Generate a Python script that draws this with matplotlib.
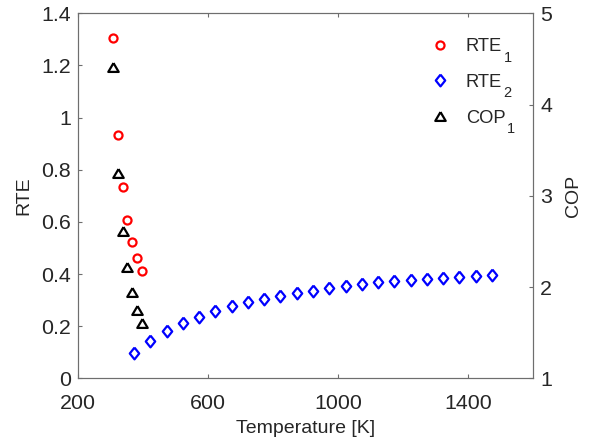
import matplotlib
matplotlib.use('Agg')
import matplotlib.pyplot as plt

plt.rcParams['font.family'] = ['Liberation Sans', 'DejaVu Sans']

# data
temp1 = [308, 323, 338, 352, 368, 382, 398]
rte1 = [1.304, 0.933, 0.733, 0.607, 0.522, 0.460, 0.412]
cop1 = [4.415, 3.247, 2.614, 2.223, 1.949, 1.749, 1.603]

temp2 = [373, 423, 473, 523, 573, 623, 673, 723, 773, 823, 873, 923,
         973, 1023, 1073, 1123, 1173, 1223, 1273, 1323, 1373, 1423, 1473]
rte2 = [0.096, 0.144, 0.181, 0.212, 0.236, 0.259, 0.277, 0.292, 0.303,
        0.317, 0.326, 0.336, 0.345, 0.354, 0.361, 0.368, 0.373, 0.377,
        0.381, 0.386, 0.390, 0.394, 0.396]

xticks = [200, 600, 1000, 1400]
yticks_left = [0, 0.2, 0.4, 0.6, 0.8, 1, 1.2, 1.4]
ylabels_left = ['0', '0.2', '0.4', '0.6', '0.8', '1', '1.2', '1.4']
yticks_right = [1, 2, 3, 4, 5]

legend_names = ['RTE', 'RTE', 'COP']
legend_subs = ['1', '2', '1']

diamond = [(0, 1), (0.8, 0), (0, -1), (-0.8, 0), (0, 1)]
triangle = [(0, 0.85), (-1, -0.85), (1, -0.85), (0, 0.85)]

axis_gray = '#6e6e6e'
text_col = '#262626'

fig = plt.figure(figsize=(5.91, 4.48), dpi=100)
ax = fig.add_axes([0.1315, 0.1556, 0.7709, 0.8147])
ax2 = ax.twinx()

h1, = ax.plot(temp1, rte1, linestyle='none', marker='o', ms=5.8, mfc='none',
              mec='red', mew=1.6, label=legend_names[0])
h2, = ax.plot(temp2, rte2, linestyle='none', marker=diamond, ms=8.5, mfc='none',
              mec='blue', mew=1.6, label=legend_names[1])
h3, = ax2.plot(temp1, cop1, linestyle='none', marker=triangle, ms=7.5, mfc='none',
               mec='black', mew=1.6, label=legend_names[2])

ax.set_xlim(200, 1600)
ax.set_ylim(0, 1.4)
ax2.set_ylim(1, 5)
ax.set_xticks(xticks)
ax.set_yticks(yticks_left)
ax.set_yticklabels(ylabels_left)
ax2.set_yticks(yticks_right)

for a in (ax, ax2):
    for s in a.spines.values():
        s.set_color(axis_gray)
        s.set_linewidth(0.8)

ax.tick_params(axis='x', direction='in', top=True, bottom=True, length=3,
               color=axis_gray, labelsize=15.4, labelcolor=text_col, pad=11)
ax.tick_params(axis='y', direction='in', left=True, right=False, length=3,
               color=axis_gray, labelsize=15.4, labelcolor=text_col, pad=5)
ax2.tick_params(axis='y', direction='in', right=True, length=3,
                color=axis_gray, labelsize=15.4, labelcolor=text_col, pad=5)

ax.set_xlabel('Temperature [K]', fontsize=14, color=text_col, labelpad=5)
ax.set_ylabel('RTE', fontsize=14, color=text_col, labelpad=6)
ax2.set_ylabel('COP', fontsize=14, color=text_col, labelpad=9)

leg = ax2.legend(handles=[h1, h2, h3], loc='upper right', bbox_to_anchor=(0.955, 0.952),
                 frameon=False, fontsize=13.2, numpoints=1, handlelength=1.0,
                 handletextpad=0.9, labelspacing=1.02, borderaxespad=0,
                 labelcolor=text_col)

# MATLAB-style subscripts: dropped fully below the baseline
fig.canvas.draw()
inv = fig.transFigure.inverted()
descent = 0.212 * 13.2 * fig.dpi / 72
for t, sub in zip(leg.get_texts(), legend_subs):
    bb = t.get_window_extent()
    x, y = inv.transform((bb.x1 + 1.5, bb.y0 + descent + 0.5))
    fig.text(x, y, sub, fontsize=10.5, color=text_col, ha='left', va='top')

fig.savefig('out.png', dpi=100)
